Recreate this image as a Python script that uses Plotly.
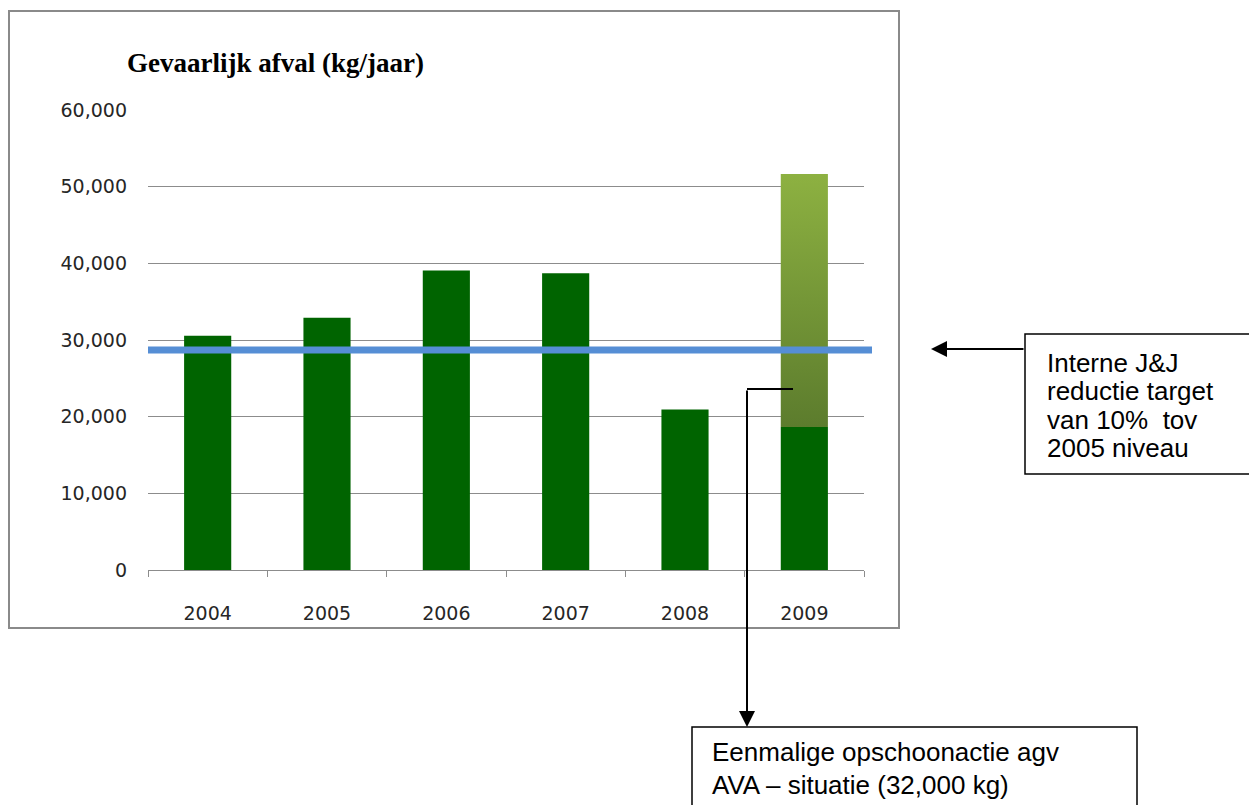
import plotly.graph_objects as go

# ---- data ----
years = ["2004", "2005", "2006", "2007", "2008", "2009"]
afval_kg = [30560, 32900, 39050, 38700, 20950, 18650]
opschoning_2009_kg = 33000          # one-off clean-up on top of 2009
target_kg = 28700                   # internal J&J reduction target
y_ticks = [0, 10000, 20000, 30000, 40000, 50000, 60000]

title_text = "Gevaarlijk afval (kg/jaar)"
box1_lines = ["Interne J&J", "reductie target", "van 10%  tov", "2005 niveau"]
box2_lines = ["Eenmalige opschoonactie agv", "AVA – situatie (32,000 kg)"]

# ---- layout geometry (screen pixels; page body has an 8px margin) ----
OFF = 8
W, H = 1257 - OFF, 805 - OFF
L, R, T, B = 148, 864, 110, 570     # plot area in screen pixels
BAR_W = 0.395


def X(px):
    return (px - L) / (R - L)


def Y(py):
    return (B - py) / (B - T)


xs = list(range(len(years)))
fig = go.Figure()

fig.add_trace(go.Bar(
    x=xs, y=afval_kg, width=BAR_W,
    marker=dict(color="#006400", line=dict(width=0)),
    showlegend=False, hoverinfo="y",
))

# gradient clean-up segment on top of the 2009 bar
i9 = years.index("2009")
base9 = afval_kg[i9]
top9 = base9 + opschoning_2009_kg
fig.add_trace(go.Scatter(
    x=[i9 - BAR_W / 2, i9 + BAR_W / 2, i9 + BAR_W / 2, i9 - BAR_W / 2, i9 - BAR_W / 2],
    y=[base9, base9, top9, top9, base9],
    mode="lines", line=dict(width=0, color="rgba(0,0,0,0)"),
    fill="toself",
    fillgradient=dict(type="vertical",
                      colorscale=[[0, "#5C7C2D"], [1, "#8DB141"]]),
    showlegend=False, hoverinfo="skip",
))

shapes = []
# target line
shapes.append(dict(type="line", xref="x domain", yref="y",
                   x0=0, x1=X(872), y0=target_kg, y1=target_kg,
                   line=dict(color="#558ED5", width=7), layer="above"))
# outer chart border
shapes.append(dict(type="rect", xref="paper", yref="paper",
                   x0=X(9), x1=X(899), y0=Y(11), y1=Y(628),
                   line=dict(color="#8A8A8A", width=2), layer="below"))
# text boxes
shapes.append(dict(type="rect", xref="paper", yref="paper",
                   x0=X(1025), x1=X(1256), y0=Y(334), y1=Y(474),
                   line=dict(color="black", width=1.5)))
shapes.append(dict(type="rect", xref="paper", yref="paper",
                   x0=X(692), x1=X(1137), y0=Y(727), y1=Y(812),
                   line=dict(color="black", width=1.5)))
# connector for arrow 2
shapes.append(dict(type="line", xref="paper", yref="paper",
                   x0=X(793), x1=X(747), y0=Y(389), y1=Y(389),
                   line=dict(color="black", width=2)))

annotations = []
annotations.append(dict(text="<b>" + title_text + "</b>", xref="paper", yref="paper",
                        x=X(125), y=Y(63), xanchor="left", yanchor="middle",
                        showarrow=False,
                        font=dict(family="Liberation Serif", size=27, color="black")))
# arrows (tail offsets in pixels)
annotations.append(dict(text="", xref="paper", yref="paper", x=X(931), y=Y(349),
                        axref="pixel", ayref="pixel", ax=1025 - 931, ay=0,
                        showarrow=True, arrowhead=2, arrowsize=1.6, arrowwidth=2,
                        arrowcolor="black"))
annotations.append(dict(text="", xref="paper", yref="paper", x=X(747), y=Y(727),
                        axref="pixel", ayref="pixel", ax=0, ay=389 - 727,
                        showarrow=True, arrowhead=2, arrowsize=1.6, arrowwidth=2,
                        arrowcolor="black"))
for k, line in enumerate(box1_lines):
    annotations.append(dict(text=line, xref="paper", yref="paper",
                            x=X(1045), y=Y(363 + 28.3 * k), xanchor="left", yanchor="middle",
                            showarrow=False,
                            font=dict(family="Liberation Sans", size=26, color="black")))
for k, line in enumerate(box2_lines):
    annotations.append(dict(text=line, xref="paper", yref="paper",
                            x=X(710), y=Y(752 + 33 * k), xanchor="left", yanchor="middle",
                            showarrow=False,
                            font=dict(family="Liberation Sans", size=26, color="black")))

fig.update_layout(
    width=W, height=H,
    margin=dict(l=L - OFF, r=W - (R - OFF), t=T - OFF, b=H - (B - OFF), pad=0),
    paper_bgcolor="white", plot_bgcolor="white",
    shapes=shapes, annotations=annotations,
    showlegend=False,
    xaxis=dict(range=[-0.5, len(years) - 0.5], tickvals=xs, ticktext=years,
               ticks="", showgrid=False, zeroline=False,
               showline=True, linecolor="#8C8C8C", linewidth=1,
               ticklabelstandoff=26,
               minor=dict(tickmode="linear", tick0=-0.5, dtick=1, ticks="outside",
                          ticklen=6, tickcolor="#8C8C8C", tickwidth=1, showgrid=False),
               tickfont=dict(family="DejaVu Sans", size=19, color="#262626")),
    yaxis=dict(range=[0, 60000], tickvals=y_ticks, tickformat=",",
               showgrid=True, gridcolor="#8C8C8C", gridwidth=1,
               zeroline=False, showline=False, ticks="",
               ticklabelstandoff=20,
               tickfont=dict(family="DejaVu Sans", size=19, color="#262626")),
)

fig.write_html("out.html")
